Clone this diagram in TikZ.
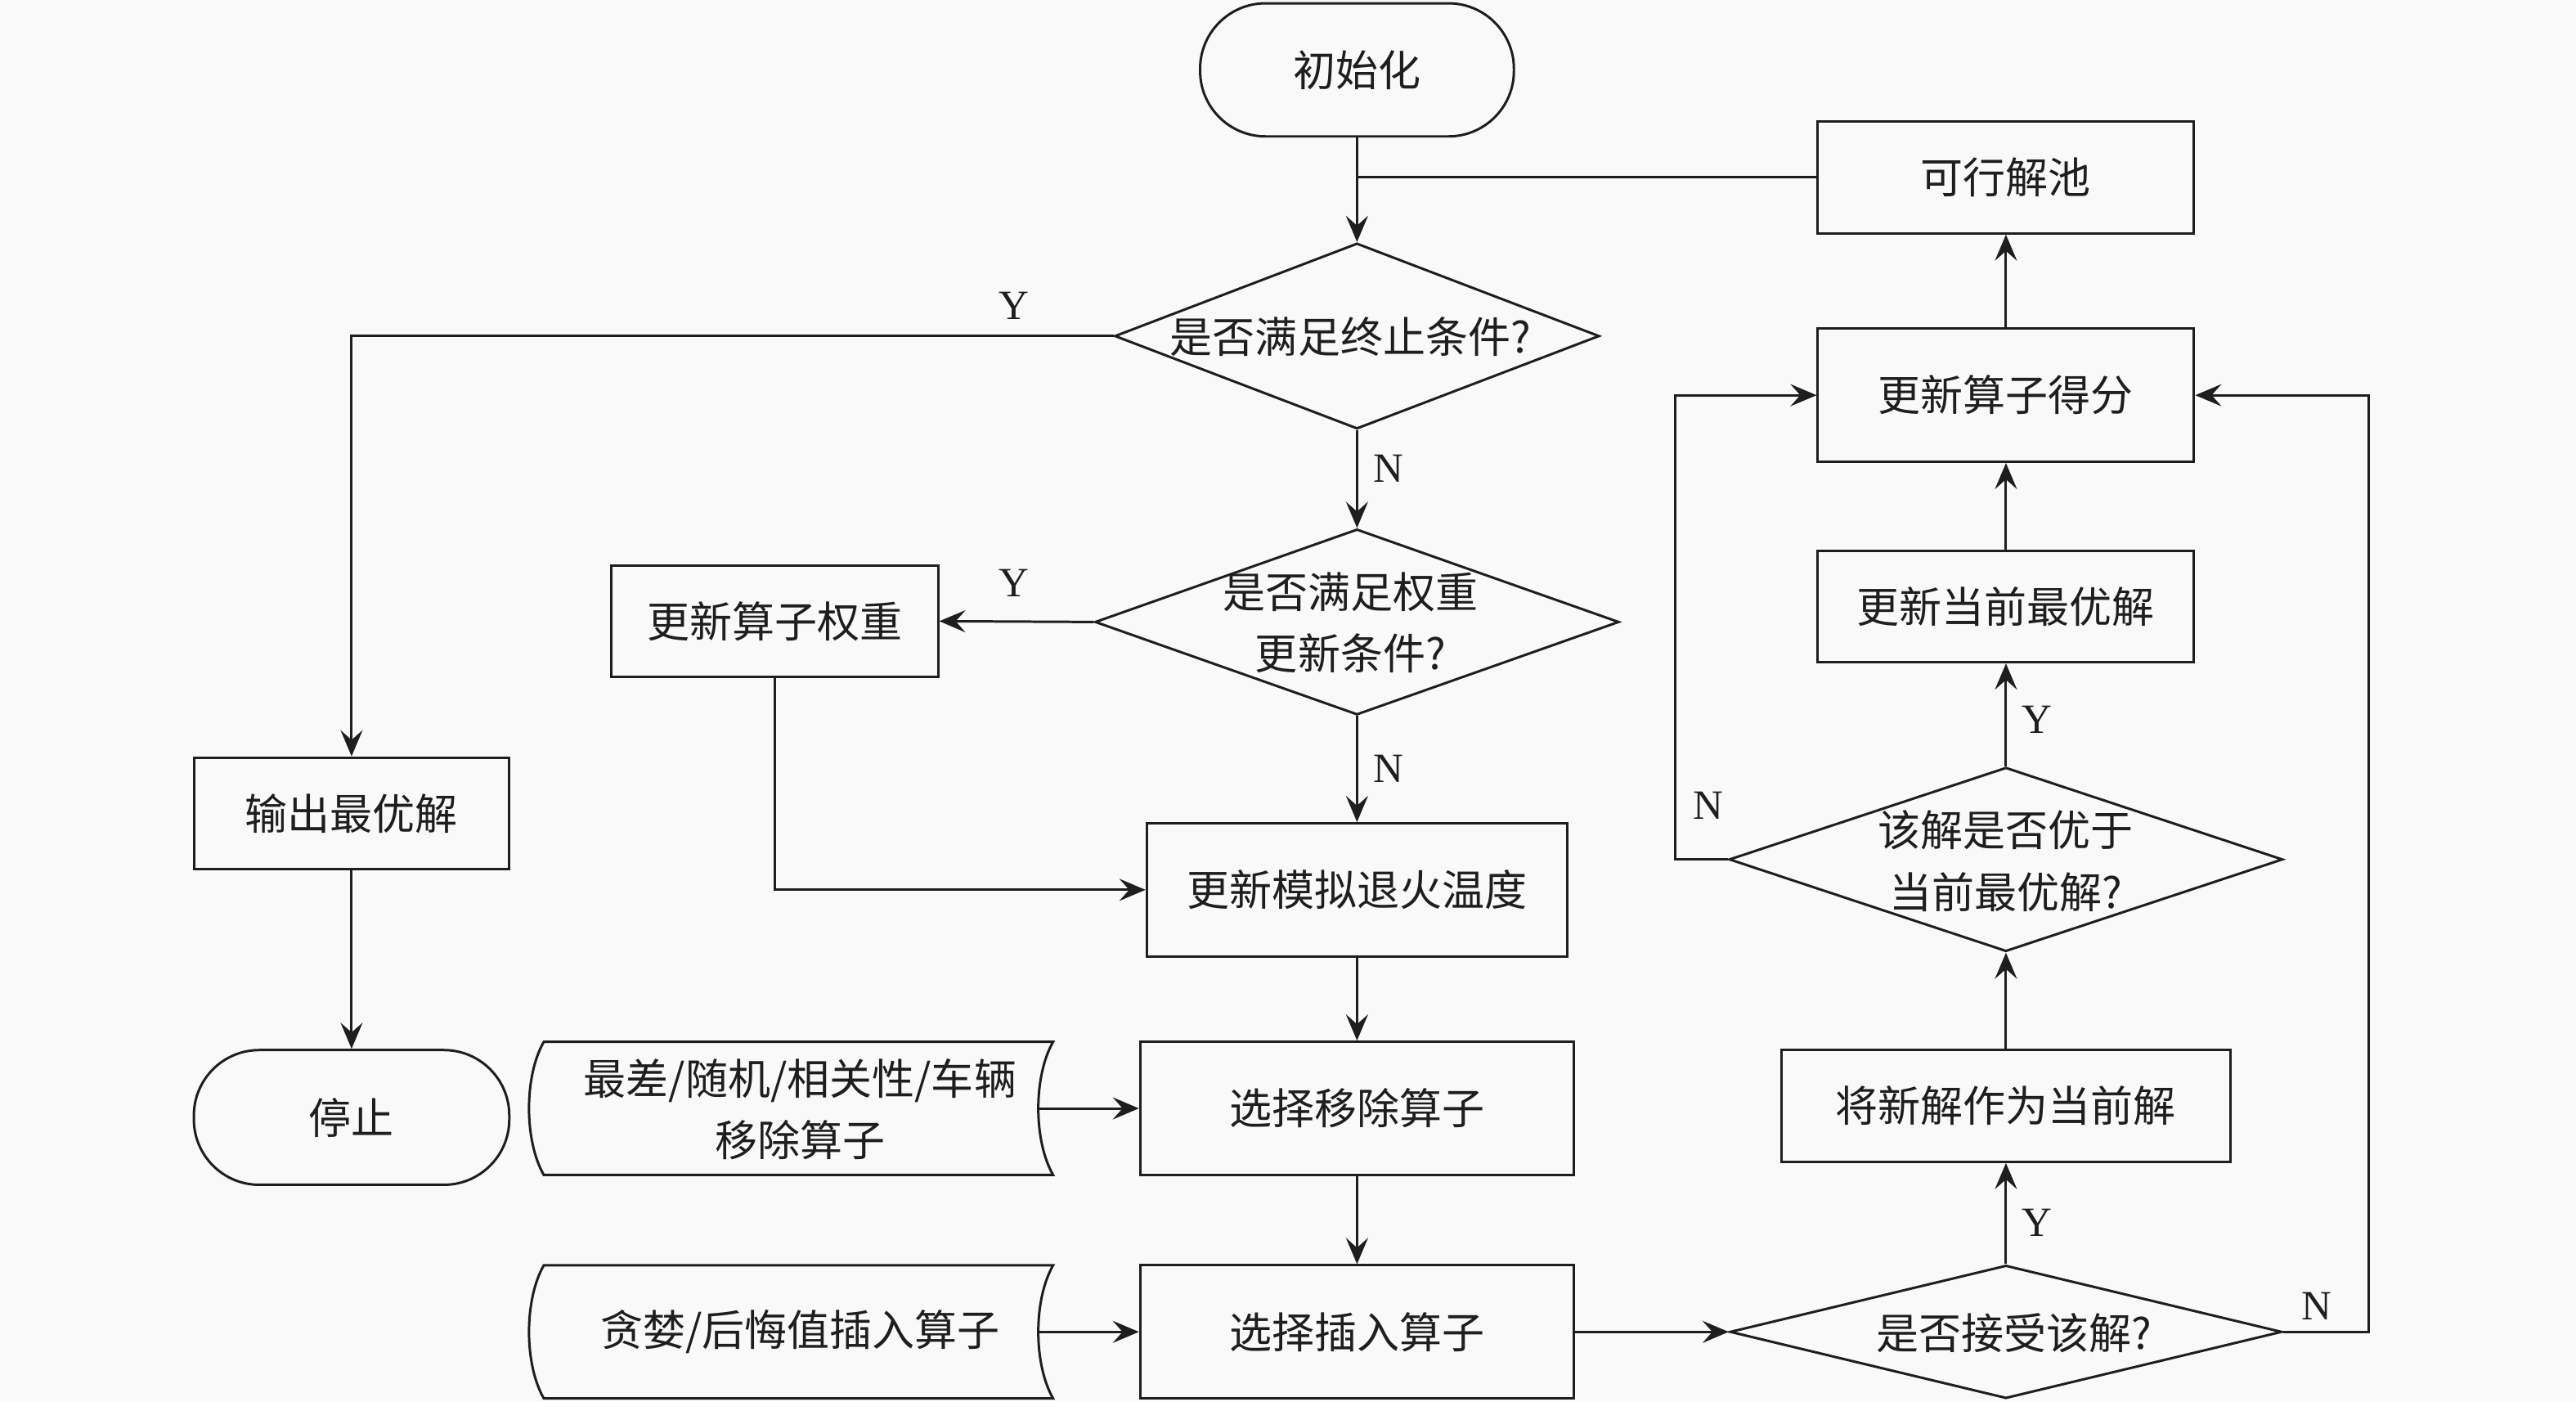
\documentclass[tikz,border=0pt]{standalone}
\usepackage{fontspec}
\setmainfont{Liberation Serif}
\newfontfamily\cjk{Noto Sans CJK SC}
\usetikzlibrary{shapes.geometric,arrows.meta}
\definecolor{bgc}{HTML}{F9F9F9}
\definecolor{ink}{HTML}{1E1E1E}
\def\uu{0.20089mm}
\begin{document}
\begin{tikzpicture}[x=0.20089mm,y=-0.20089mm, line width=0.85pt, draw=ink, text=ink,
  box/.style={draw, rectangle, inner sep=0pt, font=\cjk\fontsize{14.8}{21}\selectfont, align=center},
  term/.style={box, rounded corners=0.8cm},
  dia/.style={draw, diamond, inner sep=0pt},
  txt/.style={inner sep=0pt, font=\cjk\fontsize{14.8}{21.5}\selectfont, align=center},
  lab/.style={inner sep=0pt, font=\fontsize{14.5}{16}\selectfont},
  arr/.style={-{Stealth[length=3.2mm,width=2.7mm,inset=1.2mm]}}]
\fill[bgc] (0,0) rectangle (1568,852.7);
\useasboundingbox (0,0) rectangle (1568,852.7);

% central column
\node[term, minimum width=191*\uu, minimum height=81*\uu] (init) at (826,42.5) {初始化};
\node[dia, minimum width=295*\uu, minimum height=113*\uu] (d1) at (826,204.5) {};
\node[txt] (d1t) at (822,205) {是否满足终止条件?};
\node[dia, minimum width=319*\uu, minimum height=113*\uu] (d2) at (826,378.5) {};
\node[txt] (d2t) at (822,379) {是否满足权重\\更新条件?};
\node[box, minimum width=256*\uu, minimum height=81*\uu] (sa) at (826,541.5) {更新模拟退火温度};
\node[box, minimum width=264*\uu, minimum height=81*\uu] (rm) at (826,674.5) {选择移除算子};
\node[box, minimum width=264*\uu, minimum height=81*\uu] (ins) at (826,810.5) {选择插入算子};

% left
\node[box, minimum width=199*\uu, minimum height=68*\uu] (wt) at (471.5,378) {更新算子权重};
\node[box, minimum width=192*\uu, minimum height=68*\uu] (out) at (214,495) {输出最优解};
\node[term, minimum width=192*\uu, minimum height=82*\uu] (stop) at (214,680) {停止};

% storage shapes
\draw (331,634) .. controls (319,655) and (319,694) .. (331,715) -- (641,715)
      .. controls (629,694) and (629,655) .. (641,634) -- cycle;
\node[txt] (s1t) at (487,675) {最差/随机/相关性/车辆\\移除算子};
\coordinate (s1r) at (632,674.5);
\draw (331,770) .. controls (319,791) and (319,830) .. (331,851) -- (641,851)
      .. controls (629,830) and (629,791) .. (641,770) -- cycle;
\node[txt] (s2t) at (487,810.5) {贪婪/后悔值插入算子};
\coordinate (s2r) at (632,810.5);

% right column
\node[box, minimum width=229*\uu, minimum height=68*\uu] (pool) at (1221,108) {可行解池};
\node[box, minimum width=229*\uu, minimum height=81*\uu] (score) at (1221,240.5) {更新算子得分};
\node[box, minimum width=229*\uu, minimum height=68*\uu] (best) at (1221,369) {更新当前最优解};
\node[dia, minimum width=337*\uu, minimum height=112*\uu] (d4) at (1221,523) {};
\node[txt] (d4t) at (1221,524) {该解是否优于\\当前最优解?};
\node[box, minimum width=273*\uu, minimum height=68*\uu] (cur) at (1221,673) {将新解作为当前解};
\node[dia, minimum width=336*\uu, minimum height=81*\uu] (d3) at (1221,810.5) {};
\node[txt] (d3t) at (1226,811) {是否接受该解?};

% labels
\node[lab] (y1) at (617,186) {Y};
\node[lab] (n1) at (845,285) {N};
\node[lab] (y2) at (617,355) {Y};
\node[lab] (n2) at (845,468) {N};
\node[lab] (y3) at (1240,438) {Y};
\node[lab] (n3) at (1040,490) {N};
\node[lab] (y4) at (1240,744) {Y};
\node[lab] (n4) at (1410,795) {N};

% connectors
\draw[arr] (init.south) -- (d1.north);
\draw (pool.west) -- (init.south |- pool.west);
\draw[arr] (d1.west) -| (out.north);
\draw[arr] (out.south) -- (stop.north);
\draw[arr] (d1.south) -- (d2.north);
\draw[arr] (d2.west) -- (wt.east);
\draw[arr] (wt.south) |- (sa.west);
\draw[arr] (d2.south) -- (sa.north);
\draw[arr] (sa.south) -- (rm.north);
\draw[arr] (s1r) -- (rm.west);
\draw[arr] (rm.south) -- (ins.north);
\draw[arr] (s2r) -- (ins.west);
\draw[arr] (ins.east) -- (d3.west);
\draw[arr] (d3.north) -- (cur.south);
\draw[arr] (cur.north) -- (d4.south);
\draw[arr] (d4.north) -- (best.south);
\draw[arr] (best.north) -- (score.south);
\draw[arr] (score.north) -- (pool.south);
\draw[arr] (d4.west) -- ++(-32,0) |- (score.west);
\draw[arr] (d3.east) -- ++(52,0) |- (score.east);
\end{tikzpicture}
\end{document}
